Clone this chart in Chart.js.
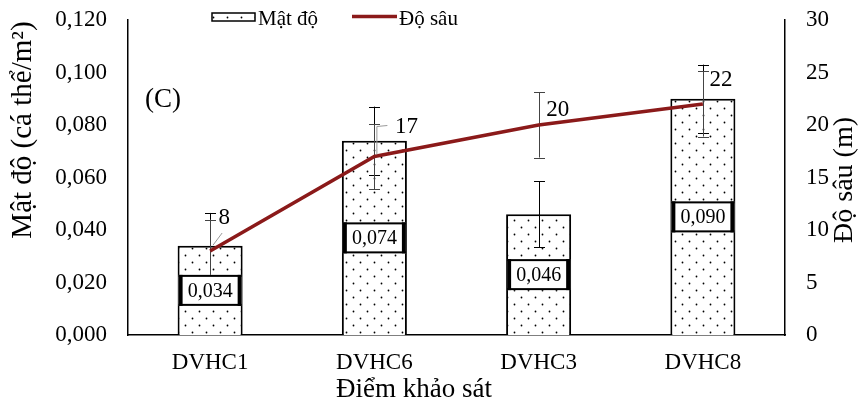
<!DOCTYPE html>
<html>
<head>
<meta charset="utf-8">
<script src="https://cdn.jsdelivr.net/npm/chart.js@4.4.0/dist/chart.umd.min.js"></script>
<style>
  html, body { margin: 0; padding: 0; background: #fff; }
  #wrap { width: 868px; height: 414px; }
</style>
</head>
<body>
<div id="wrap"><canvas id="c" width="868" height="414"></canvas></div>
<script>
// Survey sites and measured values
const sites = ['DVHC1', 'DVHC6', 'DVHC3', 'DVHC8'];
const density = [0.034, 0.074, 0.046, 0.090];        // cá thể/m²
const densityErr = [0.0125, 0.013, 0.0125, 0.013];
const depth = [8, 17, 20, 22];                        // m
const depthErr = [3.0, 3.1, 3.1, 3.1];

const SERIF = "'Liberation Serif', 'Times New Roman', serif";
const LINE_RED = '#8b1a1a';

// Dotted fill used for the density bars
function dotPattern(ctx) {
  const c = document.createElement('canvas');
  c.width = 14; c.height = 14;
  const g = c.getContext('2d');
  g.fillStyle = '#fff';
  g.fillRect(0, 0, 14, 14);
  g.fillStyle = '#000';
  g.beginPath(); g.arc(3.5, 3.5, 0.9, 0, Math.PI * 2); g.fill();
  g.beginPath(); g.arc(10.5, 10.5, 0.9, 0, Math.PI * 2); g.fill();
  return ctx.createPattern(c, 'repeat');
}

const canvas = document.getElementById('c');
const ctx0 = canvas.getContext('2d');
const dots = dotPattern(ctx0);

function drawErrorBar(ctx, x, yTop, yBot, cap) {
  const xx = Math.round(x) + 0.5;
  ctx.beginPath();
  ctx.moveTo(xx, yTop); ctx.lineTo(xx, yBot);
  ctx.moveTo(xx - cap, Math.round(yTop) + 0.5); ctx.lineTo(xx + cap, Math.round(yTop) + 0.5);
  ctx.moveTo(xx - cap, Math.round(yBot) + 0.5); ctx.lineTo(xx + cap, Math.round(yBot) + 0.5);
  ctx.stroke();
}

// Error bars and boxed value labels, drawn right after the bars (below the line)
const barExtras = {
  id: 'barExtras',
  afterDatasetDraw(chart, args) {
    if (args.index !== 0) return;
    const ctx = chart.ctx;
    const yL = chart.scales.y, yR = chart.scales.y2;
    const barMeta = chart.getDatasetMeta(0);
    const lineMeta = chart.getDatasetMeta(1);
    ctx.save();
    ctx.strokeStyle = '#000';
    ctx.lineWidth = 1;
    barMeta.data.forEach((bar, i) => {
      drawErrorBar(ctx, bar.x, yL.getPixelForValue(density[i] + densityErr[i]),
                   yL.getPixelForValue(density[i] - densityErr[i]), 5.5);
    });
    ctx.strokeStyle = '#444';
    lineMeta.data.forEach((pt, i) => {
      drawErrorBar(ctx, pt.x, yR.getPixelForValue(depth[i] + depthErr[i]),
                   yR.getPixelForValue(depth[i] - depthErr[i]), 5.5);
    });
    // value boxes centred in each bar
    barMeta.data.forEach((bar, i) => {
      const w = bar.width - 2, h = 31;
      const cy = (bar.y + bar.base) / 2;
      const x0 = bar.x - w / 2, y0 = cy - h / 2;
      ctx.fillStyle = '#fff';
      ctx.fillRect(x0, y0, w, h);
      ctx.fillStyle = '#000';
      ctx.fillRect(x0, y0, w, 2);
      ctx.fillRect(x0, y0 + h - 2, w, 2);
      ctx.fillRect(x0, y0, 4, h);
      ctx.fillRect(x0 + w - 4, y0, 4, h);
      ctx.font = '20px ' + SERIF;
      ctx.textAlign = 'center';
      ctx.textBaseline = 'middle';
      ctx.fillText(density[i].toFixed(3).replace('.', ','), bar.x, cy + 1);
    });
    ctx.restore();
  }
};

// Depth labels beside the line points, legend, panel tag and axis titles
const decorations = {
  id: 'decorations',
  afterDatasetsDraw(chart) {
    const ctx = chart.ctx;
    const lineMeta = chart.getDatasetMeta(1);
    const offsets = [[14, -33], [32, -30], [19, -15], [18, -24]];
    ctx.save();
    // leader lines for the first two labels
    ctx.strokeStyle = '#999';
    ctx.lineWidth = 1;
    const p0 = lineMeta.data[0], p1 = lineMeta.data[1];
    ctx.beginPath();
    ctx.moveTo(p0.x + 3, p0.y - 6); ctx.lineTo(p0.x + 12, p0.y - 18);
    ctx.moveTo(p1.x + 2.5, p1.y - 2); ctx.lineTo(p1.x + 2.5, p1.y - 30); ctx.lineTo(p1.x + 13, p1.y - 31);
    ctx.stroke();

    ctx.fillStyle = '#000';
    ctx.font = '23px ' + SERIF;
    ctx.textAlign = 'center';
    ctx.textBaseline = 'middle';
    lineMeta.data.forEach((pt, i) => {
      ctx.fillText(String(depth[i]), pt.x + offsets[i][0], pt.y + offsets[i][1]);
    });
    ctx.restore();
  },
  afterDraw(chart) {
    const ctx = chart.ctx;
    ctx.save();
    ctx.fillStyle = '#000';
    ctx.textBaseline = 'alphabetic';
    ctx.textAlign = 'left';

    // legend
    ctx.fillStyle = dots;
    ctx.fillRect(212, 13, 43, 8);
    ctx.strokeStyle = '#000';
    ctx.lineWidth = 1.5;
    ctx.strokeRect(212, 13, 43, 8);
    ctx.fillStyle = '#000';
    ctx.font = '21px ' + SERIF;
    ctx.fillText('Mật độ', 258, 25);
    ctx.strokeStyle = LINE_RED;
    ctx.lineWidth = 3.5;
    ctx.beginPath(); ctx.moveTo(352, 16.5); ctx.lineTo(397, 16.5); ctx.stroke();
    ctx.fillText('Độ sâu', 399, 25);

    // panel tag
    ctx.font = '27px ' + SERIF;
    ctx.fillText('(C)', 145, 107);

    // axis titles
    ctx.font = '27px ' + SERIF;
    ctx.textAlign = 'center';
    ctx.textBaseline = 'middle';
    ctx.fillText('Điểm khảo sát', 414, 390);

    ctx.save();
    ctx.translate(23, 130);
    ctx.rotate(-Math.PI / 2);
    ctx.font = '29px ' + SERIF;
    ctx.fillText('Mật độ (cá thể/m²)', 0, 0);
    ctx.restore();

    ctx.save();
    ctx.translate(845, 180);
    ctx.rotate(-Math.PI / 2);
    ctx.font = '28px ' + SERIF;
    ctx.fillText('Độ sâu (m)', 0, 0);
    ctx.restore();

    ctx.restore();
  }
};

const axisBorder = { display: true, color: '#000', width: 1.5 };

// fixed side-axis width; tick padding should not push the plot area down
function fitSide(width) {
  return s => { s.width = width; s.paddingTop = 0; s.paddingBottom = 0; };
}

new Chart(canvas, {
  type: 'bar',
  data: {
    labels: sites,
    datasets: [
      {
        type: 'bar',
        label: 'Mật độ',
        data: density,
        yAxisID: 'y',
        backgroundColor: dots,
        borderColor: '#000',
        borderWidth: 2,
        categoryPercentage: 1.0,
        barPercentage: 0.396,
        order: 2
      },
      {
        type: 'line',
        label: 'Độ sâu',
        data: depth,
        yAxisID: 'y2',
        borderColor: LINE_RED,
        backgroundColor: LINE_RED,
        borderWidth: 3.5,
        pointRadius: 0,
        tension: 0,
        order: 1
      }
    ]
  },
  options: {
    responsive: false,
    animation: false,
    devicePixelRatio: 1,
    layout: { padding: { top: 20, left: 0, right: 0, bottom: 0 } },
    plugins: {
      legend: { display: false },
      tooltip: { enabled: false }
    },
    scales: {
      x: {
        offset: true,
        grid: { display: false, drawTicks: false },
        border: axisBorder,
        ticks: { color: '#000', font: { family: SERIF, size: 23 }, padding: 14 },
        afterFit(s) { s.height = 79; s.paddingLeft = 0; s.paddingRight = 0; }
      },
      y: {
        position: 'left',
        min: 0, max: 0.12,
        grid: { display: false, drawTicks: false },
        border: axisBorder,
        ticks: {
          stepSize: 0.02,
          color: '#000',
          font: { family: SERIF, size: 23 },
          padding: 21,
          callback: v => v.toFixed(3).replace('.', ',')
        },
        afterFit: fitSide(128)
      },
      y2: {
        position: 'right',
        min: 0, max: 30,
        grid: { display: false, drawTicks: false },
        border: axisBorder,
        ticks: {
          stepSize: 5,
          color: '#000',
          font: { family: SERIF, size: 23 },
          padding: 21
        },
        afterFit: fitSide(83)
      }
    }
  },
  plugins: [barExtras, decorations]
});
</script>
</body>
</html>
